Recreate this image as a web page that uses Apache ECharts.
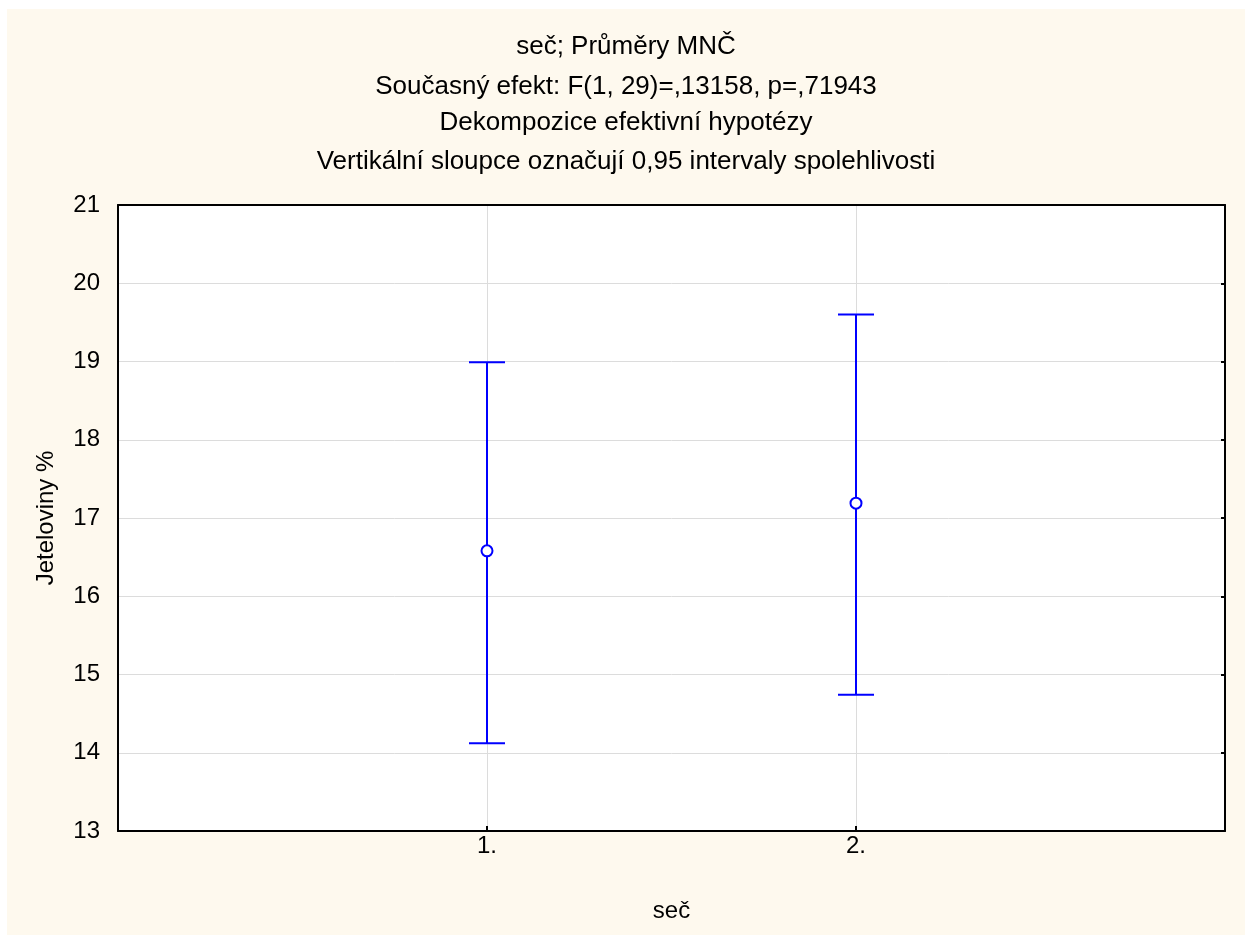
<!DOCTYPE html>
<html>
<head>
    <meta charset="utf-8">
    <script src="https://cdn.jsdelivr.net/npm/echarts@6/dist/echarts.min.js"></script>
    <style>
        body { margin: 0; background: #ffffff; }
        #main { position: absolute; left: 7px; top: 9px; width: 1238px; height: 926px; }
    </style>
</head>
<body>
    <div id="main"></div>

    <script type="text/javascript">
        // data
        var categories = ['1.', '2.'];
        var means = [16.58, 17.19];
        var lower = [14.12, 14.74];
        var upper = [18.99, 19.60];
        var yTicks = [13, 14, 15, 16, 17, 18, 19, 20, 21];

        var titleLines = [
            'seč; Průměry MNČ',
            'Současný efekt: F(1, 29)=,13158, p=,71943',
            'Dekompozice efektivní hypotézy',
            'Vertikální sloupce označují 0,95 intervaly spolehlivosti'
        ];

        var barData = [];
        for (var i = 0; i < categories.length; i++) {
            barData.push([i + 1, means[i], lower[i], upper[i]]);
        }

        var font = 'Arial, "Liberation Sans", sans-serif';
        var blue = '#0000ff';

        var titles = [];
        var titleTops = [25, 65, 101, 140];
        for (var t = 0; t < titleLines.length; t++) {
            titles.push({
                text: titleLines[t],
                left: 'center',
                top: titleTops[t],
                padding: 0,
                textStyle: { fontFamily: font, fontSize: 26, fontWeight: 'normal', color: '#000' }
            });
        }

        var myChart = echarts.init(document.getElementById('main'));
        var option = {
            backgroundColor: '#fef9ee',
            animation: false,
            title: titles,
            grid: {
                left: 111, right: 20, top: 196, bottom: 104,
                show: true, backgroundColor: '#ffffff', borderWidth: 0
            },
            xAxis: [{
                type: 'value',
                min: 0, max: 3, interval: 1,
                name: 'seč',
                nameLocation: 'middle',
                nameGap: 68,
                nameTextStyle: { fontFamily: font, fontSize: 24, color: '#000' },
                axisLine: { show: true, onZero: false, lineStyle: { color: '#000', width: 2 } },
                axisTick: { show: true, inside: true, length: 5, lineStyle: { color: '#000', width: 2 } },
                axisLabel: {
                    fontFamily: font, fontSize: 24, color: '#000', margin: 3,
                    showMinLabel: false, showMaxLabel: false,
                    formatter: function (v) { return categories[v - 1] || ''; }
                },
                splitLine: { show: true, lineStyle: { color: '#dcdcdc', width: 1 } }
            }, {
                type: 'value',
                position: 'top',
                min: 0, max: 3, interval: 1,
                axisLine: { show: true, onZero: false, lineStyle: { color: '#000', width: 2 } },
                axisTick: { show: false },
                axisLabel: { show: false },
                splitLine: { show: false }
            }],
            yAxis: [{
                type: 'value',
                min: yTicks[0], max: yTicks[yTicks.length - 1], interval: 1,
                name: 'Jeteloviny %',
                nameLocation: 'middle',
                nameGap: 60,
                nameTextStyle: { fontFamily: font, fontSize: 24, color: '#000' },
                axisLine: { show: true, onZero: false, lineStyle: { color: '#000', width: 2 } },
                axisTick: { show: false },
                axisLabel: { fontFamily: font, fontSize: 24, color: '#000', margin: 18 },
                splitLine: { show: true, lineStyle: { color: '#dcdcdc', width: 1 } }
            }, {
                type: 'value',
                position: 'right',
                min: yTicks[0], max: yTicks[yTicks.length - 1], interval: 1,
                axisLine: { show: true, onZero: false, lineStyle: { color: '#000', width: 2 } },
                axisTick: { show: true, inside: true, length: 4, lineStyle: { color: '#000', width: 2 } },
                axisLabel: { show: false },
                splitLine: { show: false }
            }],
            series: [{
                type: 'custom',
                xAxisIndex: 0,
                yAxisIndex: 0,
                data: barData,
                renderItem: function (params, api) {
                    var x = api.value(0);
                    var pMean = api.coord([x, api.value(1)]);
                    var pLow = api.coord([x, api.value(2)]);
                    var pHigh = api.coord([x, api.value(3)]);
                    var capHalf = 18;
                    var style = { stroke: blue, lineWidth: 2, fill: null };
                    return {
                        type: 'group',
                        children: [
                            { type: 'line', shape: { x1: pLow[0], y1: pLow[1], x2: pHigh[0], y2: pHigh[1] }, style: style },
                            { type: 'line', shape: { x1: pHigh[0] - capHalf, y1: pHigh[1], x2: pHigh[0] + capHalf, y2: pHigh[1] }, style: style },
                            { type: 'line', shape: { x1: pLow[0] - capHalf, y1: pLow[1], x2: pLow[0] + capHalf, y2: pLow[1] }, style: style },
                            { type: 'circle', shape: { cx: pMean[0], cy: pMean[1], r: 5.5 }, style: { stroke: blue, lineWidth: 2, fill: '#ffffff' } }
                        ]
                    };
                }
            }]
        };

        myChart.setOption(option);
    </script>
</body>
</html>
